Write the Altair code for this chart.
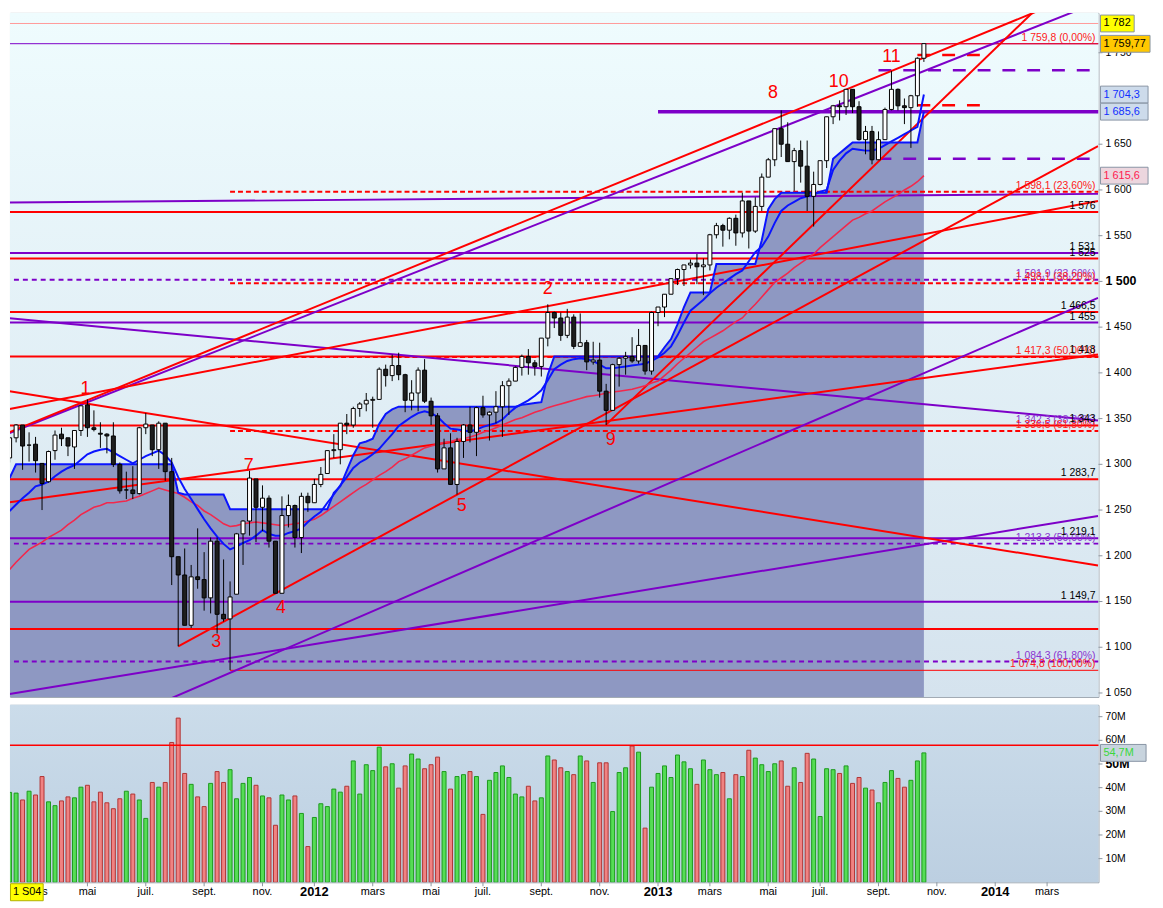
import altair as alt
import pandas as pd

# ------------------------------------------------------------------ data
# weekly candles (open, high, low, close)
ohlc_2011 = [
    (1307, 1330, 1302, 1329), (1329, 1344, 1324, 1343), (1343, 1343, 1294, 1320), (1321, 1335, 1303, 1321),
    (1322, 1330, 1291, 1304), (1301, 1301, 1250, 1279), (1281, 1315, 1280, 1314), (1315, 1337, 1305, 1332),
    (1333, 1340, 1320, 1328), (1329, 1329, 1309, 1320), (1319, 1337, 1295, 1337), (1337, 1364, 1331, 1364),
    (1365, 1371, 1330, 1340), (1340, 1359, 1336, 1338), (1334, 1346, 1318, 1333), (1333, 1334, 1312, 1331),
    (1331, 1346, 1297, 1300), (1300, 1302, 1268, 1271), (1272, 1292, 1262, 1272), (1272, 1298, 1262, 1268),
    (1268, 1341, 1267, 1340), (1340, 1356, 1333, 1344), (1343, 1343, 1309, 1316), (1316, 1347, 1295, 1345),
    (1345, 1345, 1282, 1292), (1292, 1307, 1168, 1199), (1199, 1199, 1101, 1179), (1179, 1208, 1124, 1124),
    (1124, 1190, 1121, 1177), (1177, 1230, 1164, 1174), (1174, 1204, 1140, 1154), (1154, 1220, 1137, 1216),
    (1216, 1220, 1115, 1136), (1136, 1196, 1128, 1131), (1131, 1172, 1075, 1155), (1158, 1225, 1158, 1224),
    (1224, 1239, 1190, 1238), (1238, 1293, 1222, 1285), (1284, 1284, 1215, 1253), (1253, 1277, 1227, 1263),
    (1263, 1266, 1209, 1216), (1216, 1216, 1159, 1159), (1159, 1265, 1159, 1244), (1244, 1267, 1231, 1255),
    (1255, 1256, 1209, 1220), (1220, 1269, 1203, 1265), (1265, 1269, 1248, 1258),
]
ohlc_2012 = [
    (1258, 1284, 1258, 1278), (1278, 1297, 1275, 1289), (1290, 1315, 1290, 1315), (1315, 1333, 1307, 1316),
    (1316, 1345, 1300, 1345), (1345, 1355, 1333, 1343), (1343, 1363, 1340, 1361), (1361, 1368, 1352, 1366),
    (1366, 1378, 1358, 1370), (1370, 1374, 1340, 1371), (1371, 1406, 1371, 1404), (1404, 1409, 1385, 1397),
    (1397, 1420, 1391, 1408), (1408, 1422, 1392, 1398), (1398, 1399, 1357, 1370), (1370, 1392, 1359, 1378),
    (1378, 1406, 1358, 1403), (1403, 1415, 1367, 1369), (1369, 1373, 1343, 1353), (1353, 1356, 1291, 1295),
    (1295, 1328, 1295, 1318), (1318, 1334, 1278, 1278), (1278, 1329, 1267, 1325), (1325, 1344, 1307, 1343),
    (1343, 1363, 1324, 1335), (1335, 1363, 1309, 1362), (1362, 1375, 1351, 1354), (1354, 1358, 1326, 1357),
    (1357, 1380, 1345, 1363), (1363, 1391, 1330, 1386), (1386, 1394, 1354, 1391), (1391, 1407, 1391, 1406),
    (1406, 1420, 1397, 1418), (1418, 1426, 1398, 1411), (1411, 1414, 1397, 1407), (1407, 1438, 1396, 1438),
    (1438, 1475, 1429, 1466), (1466, 1467, 1449, 1460), (1460, 1466, 1435, 1441), (1441, 1470, 1438, 1461),
    (1461, 1464, 1426, 1429), (1429, 1465, 1429, 1433), (1433, 1436, 1403, 1412), (1412, 1434, 1409, 1414),
    (1414, 1433, 1373, 1380), (1380, 1388, 1343, 1359), (1359, 1410, 1359, 1409), (1409, 1417, 1385, 1416),
    (1416, 1423, 1398, 1418), (1418, 1439, 1411, 1413), (1413, 1448, 1410, 1430), (1430, 1430, 1398, 1402),
    (1402, 1467, 1398, 1466),
]
ohlc_2013 = [
    (1466, 1472, 1451, 1472), (1472, 1486, 1461, 1486), (1486, 1503, 1486, 1503), (1503, 1514, 1496, 1513),
    (1513, 1518, 1495, 1518), (1518, 1524, 1514, 1520), (1520, 1530, 1497, 1516), (1516, 1525, 1485, 1518),
    (1518, 1552, 1512, 1551), (1551, 1564, 1547, 1561), (1561, 1563, 1538, 1556), (1556, 1570, 1546, 1569),
    (1569, 1573, 1539, 1553), (1553, 1597, 1548, 1588), (1588, 1588, 1536, 1555), (1555, 1592, 1553, 1582),
    (1582, 1618, 1577, 1614), (1614, 1635, 1614, 1633), (1633, 1667, 1626, 1667), (1667, 1687, 1636, 1650),
    (1650, 1674, 1631, 1631), (1631, 1646, 1599, 1643), (1643, 1654, 1608, 1626), (1626, 1654, 1577, 1593),
    (1593, 1620, 1560, 1606), (1606, 1632, 1605, 1632), (1632, 1680, 1624, 1680), (1680, 1693, 1672, 1692),
    (1692, 1698, 1676, 1691), (1691, 1710, 1682, 1710), (1710, 1710, 1684, 1691), (1691, 1697, 1654, 1655),
    (1655, 1670, 1639, 1664), (1664, 1670, 1628, 1633), (1633, 1664, 1633, 1655), (1655, 1690, 1655, 1688),
    (1688, 1730, 1687, 1710), (1710, 1711, 1687, 1692), (1692, 1700, 1672, 1690), (1690, 1704, 1646, 1703),
    (1703, 1745, 1691, 1744), (1744, 1760, 1740, 1760),
]
first_week = "2011-02-07"

# weekly volume, millions
volume_m = [
    38.0, 37.7, 34.8, 38.5, 36.9, 44.7, 34.0, 32.4, 34.4, 36.1,
    35.7, 40.2, 41.0, 34.0, 38.1, 33.6, 31.1, 35.3, 38.5, 37.3,
    34.8, 27.0, 42.2, 40.2, 42.2, 59.1, 69.4, 46.0, 41.4, 36.1,
    32.0, 41.8, 46.8, 42.2, 47.6, 35.3, 41.8, 44.3, 41.0, 36.5,
    35.7, 24.1, 36.9, 34.8, 36.5, 29.1, 15.1, 27.4, 33.2, 32.0,
    39.4, 38.1, 40.6, 51.3, 37.3, 49.7, 47.2, 57.1, 48.8, 50.1,
    39.8, 49.2, 54.2, 52.1, 48.0, 49.7, 52.9, 46.8, 39.4, 44.7,
    45.5, 46.8, 44.7, 28.7, 43.1, 46.4, 49.2, 44.3, 37.3, 36.1,
    40.6, 34.4, 35.7, 53.4, 51.7, 48.4, 46.8, 45.5, 53.4, 51.3,
    42.2, 50.5, 50.5, 29.9, 46.4, 48.4, 57.6, 55.0, 22.9, 40.2,
    46.0, 49.2, 44.3, 53.8, 50.9, 48.0, 41.4, 51.7, 47.6, 45.5,
    46.4, 35.3, 45.5, 44.7, 55.8, 52.5, 49.7, 46.8, 50.1, 51.3,
    40.6, 48.4, 42.2, 54.5, 52.1, 27.8, 48.0, 47.6, 46.0, 49.2,
    41.8, 44.3, 39.8, 39.0, 33.6, 42.2, 47.2, 43.9, 40.2, 43.1,
    51.3, 54.7,
]

# stepped blue stop line (top of the shaded area)
stop_line = [
    1285, 1300, 1300, 1300, 1300, 1300, 1300, 1300, 1300, 1300,
    1300, 1300, 1300, 1300, 1300, 1300, 1300, 1300, 1300, 1300,
    1300, 1300, 1300, 1300, 1300, 1300, 1269, 1267, 1267, 1267,
    1267, 1267, 1267, 1267, 1251, 1251, 1251, 1251, 1251, 1251,
    1251, 1251, 1251, 1251, 1251, 1251, 1251, 1251, 1251, 1251,
    1269, 1276, 1293, 1310, 1323, 1325, 1328, 1344, 1355, 1360,
    1363, 1363, 1363, 1363, 1363, 1363, 1363, 1363, 1363, 1363,
    1363, 1363, 1363, 1363, 1363, 1363, 1363, 1363, 1363, 1365,
    1366, 1367, 1368, 1398, 1418, 1418, 1418, 1418, 1418, 1418,
    1418, 1418, 1418, 1418, 1418, 1418, 1418, 1418, 1418, 1418,
    1418, 1428, 1437, 1453, 1472, 1488, 1488, 1488, 1488, 1519,
    1519, 1519, 1519, 1519, 1519, 1519, 1545, 1579, 1590, 1597,
    1597, 1597, 1597, 1597, 1597, 1597, 1597, 1634, 1640, 1646,
    1652, 1652, 1652, 1652, 1652, 1652, 1652, 1652, 1652, 1652,
    1652, 1685.6,
]
# smooth blue line
fast_line = [
    1249, 1256, 1263, 1269, 1276, 1278, 1281, 1287, 1292, 1296,
    1299, 1305, 1311, 1314, 1316, 1317, 1313, 1309, 1305, 1301,
    1305, 1309, 1312, 1315, 1310, 1302, 1286, 1273, 1262, 1251,
    1240, 1230, 1221, 1213, 1207, 1210, 1214, 1217, 1222, 1228,
    1224, 1222, 1222, 1225, 1227, 1230, 1237, 1243, 1248, 1258,
    1267, 1277, 1286, 1296, 1302, 1306, 1311, 1317, 1325, 1333,
    1342, 1347, 1352, 1356, 1358, 1356, 1352, 1345, 1339, 1338,
    1337, 1336, 1338, 1341, 1343, 1345, 1349, 1356, 1362, 1366,
    1370, 1375, 1381, 1392, 1404, 1409, 1413, 1415, 1416, 1415,
    1413, 1409, 1405, 1405, 1406, 1407, 1408, 1409, 1410, 1413,
    1417, 1422, 1429, 1441, 1455, 1468, 1474, 1480, 1487, 1493,
    1498, 1503, 1508, 1512, 1522, 1532, 1538, 1549, 1564, 1577,
    1583, 1587, 1591, 1593, 1595, 1598, 1600, 1622, 1632, 1640,
    1645, 1644, 1643, 1643, 1645, 1649, 1653, 1657, 1661, 1665,
    1669, 1704.3,
]
# red moving average
slow_ma = [
    1185, 1193, 1200, 1207, 1211, 1215, 1220, 1224, 1228, 1234,
    1239, 1245, 1249, 1253, 1255, 1258, 1258, 1259, 1260, 1263,
    1265, 1268, 1271, 1274, 1272, 1270, 1268, 1264, 1259, 1255,
    1249, 1245, 1240, 1235, 1232, 1233, 1235, 1236, 1237, 1236,
    1235, 1234, 1233, 1234, 1235, 1236, 1238, 1240, 1244, 1249,
    1254, 1259, 1264, 1269, 1274, 1278, 1283, 1288, 1292, 1297,
    1303, 1306, 1310, 1314, 1318, 1320, 1322, 1324, 1325, 1327,
    1328, 1330, 1332, 1335, 1337, 1340, 1343, 1346, 1349, 1351,
    1354, 1357, 1359, 1362, 1364, 1366, 1368, 1370, 1372, 1374,
    1375, 1376, 1378, 1379, 1380, 1381, 1382, 1384, 1386, 1389,
    1391, 1397, 1403, 1410, 1416, 1422, 1428, 1434, 1438, 1442,
    1446, 1451, 1456, 1460, 1468, 1475, 1483, 1491, 1499, 1504,
    1509, 1515, 1520, 1525, 1530, 1537, 1543, 1549, 1555, 1561,
    1567, 1570, 1574, 1577, 1582, 1587, 1591, 1595, 1600, 1604,
    1609, 1615.6,
]

# horizontal levels
red_levels = [1576, 1525, 1466.5, 1418, 1342.5, 1283.7, 1120]
purple_levels = [1531, 1455, 1219.1, 1149.7]
red_fib_levels = [1598.1, 1498.1, 1417.3, 1336.5]
red_fib_thin = [1759.8, 1074.8]
fib_start = "2011-10-03"
purple_fib_levels = [1501.9, 1213.3, 1084.3]
purple_top_level = [1759.9]
pink_level = [1782]
resistance = [1685.6]
resistance_start = "2013-01-07"
purple_short_levels = [1730.9, 1634.0]
purple_short_start = "2013-09-02"
red_short_levels = [1747.6, 1692.6]
red_short_start = "2013-10-14"
red_short_end = "2013-12-21"
volume_level = [57.9]

# trend lines: start date, start price, end date, end price
red_trends = [
    ("2011-02-07", 1335.3, "2014-04-27", 1822.6),
    ("2011-02-07", 1360.6, "2014-04-27", 1588.0),
    ("2011-02-07", 1379.8, "2014-04-27", 1189.4),
    ("2011-02-07", 1258.5, "2014-04-27", 1420.2),
    ("2011-08-08", 1101.0, "2014-04-27", 1648.0),
    ("2012-11-12", 1343.4, "2014-04-27", 1863.0),
]
purple_trends = [
    ("2011-02-07", 1334.3, "2014-04-27", 1805.3),
    ("2011-02-07", 1459.6, "2014-04-27", 1347.9),
    ("2011-07-01", 1030.9, "2014-04-27", 1481.9),
    ("2011-02-07", 1048.9, "2014-04-27", 1243.6),
    ("2011-02-07", 1586.2, "2014-04-27", 1595.7),
]

# wave count labels
wave_labels = ["1", "2", "3", "4", "5", "7", "8", "9", "10", "11"]
wave_dates = ["2011-04-30", "2012-09-10", "2011-09-18", "2011-11-27", "2012-06-09",
              "2011-10-23", "2013-05-11", "2012-11-17", "2013-07-21", "2013-09-16"]
wave_prices = [1381.9, 1491.5, 1105.3, 1142.6, 1254.3, 1297.9, 1706.4, 1326.6, 1718.1, 1745.7]

# line labels at the right edge
black_labels = [(1576, "1 576"), (1531, "1 531"), (1525, "1 525"), (1466.5, "1 466,5"),
                (1455, "1 455"), (1418, "1 418"), (1342.5, "1 343"), (1283.7, "1 283,7"),
                (1219.1, "1 219,1"), (1149.7, "1 149,7")]
red_fib_labels = [(1759.8, "1 759,8 (0,00%)"), (1598.1, "1 598,1 (23,60%)"), (1498.1, "1 498,1 (38,20%)"),
                  (1417.3, "1 417,3 (50,00%)"), (1336.5, "1 336,5 (61,80%)"), (1074.8, "1 074,8 (100,00%)")]
purple_fib_labels = [(1501.9, "1 501,9 (23,60%)"), (1342.3, "1 342,3 (38,20%)"),
                     (1213.3, "1 213,3 (50,00%)"), (1084.3, "1 084,3 (61,80%)")]

# axis value boxes
yellow_box = [(1782, "1 782")]
gold_box = [(1759.77, "1 759,77")]
blue_boxes = [(1704.3, "1 704,3"), (1685.6, "1 685,6")]
pink_box = [(1615.6, "1 615,6")]
volume_box = [(54.7, "54,7M")]
cursor_label = "1 S04"

# axis ticks and their labels
price_ticks = [1050, 1100, 1150, 1200, 1250, 1300, 1350, 1400, 1450, 1550, 1600, 1650, 1750]
price_tick_labels = ["1 050", "1 100", "1 150", "1 200", "1 250", "1 300", "1 350", "1 400", "1 450",
                     "1 550", "1 600", "1 650", "1 750"]
price_bold_tick = [(1500, "1 500")]
volume_ticks = [10, 20, 30, 40, 60, 70]
volume_tick_labels = ["10M", "20M", "30M", "40M", "60M", "70M"]
volume_bold_tick = [(50, "50M")]
tick_dates = ["2011-03-07", "2011-05-02", "2011-07-04", "2011-09-05", "2011-11-07", "2012-01-02",
              "2012-03-05", "2012-05-07", "2012-07-02", "2012-09-03", "2012-11-05", "2013-01-07",
              "2013-03-04", "2013-05-06", "2013-07-01", "2013-09-02", "2013-11-04", "2014-01-06",
              "2014-03-03"]
tick_labels = ["mars", "mai", "juil.", "sept.", "nov.", "2012", "mars", "mai", "juil.", "sept.",
               "nov.", "2013", "mars", "mai", "juil.", "sept.", "nov.", "2014", "mars"]

# ------------------------------------------------------------------ frames
ohlc = ohlc_2011 + ohlc_2012 + ohlc_2013
df = pd.DataFrame(ohlc, columns=["open", "high", "low", "close"])
df["date"] = pd.date_range(first_week, periods=len(ohlc), freq="7D").strftime("%Y-%m-%d")
df["vol"] = volume_m
df["stop"] = stop_line
df["fast"] = fast_line
df["ma"] = slow_ma
prev_close = df["close"].shift(1).fillna(df["open"])
df["vol_up"] = df["close"] >= prev_close


def ms(s):
    return int(pd.Timestamp(s, tz="UTC").value // 10**6)


W, H1, H2 = 1098, 690, 179
FONT = "Liberation Sans"
RED = "#ff0000"
PURPLE = "#7d00c8"
AXIS_GREY = "#8c96a0"

x_scale = alt.Scale(type="utc", domain=[ms("2011-02-07 09:36"), ms("2014-04-27 12:00")], padding=0)
p_scale = alt.Scale(domain=[1045.7, 1793.6], nice=False, zero=False, padding=0)
v_scale = alt.Scale(domain=[0, 75], nice=False, zero=False, padding=0)


def X(f):
    return alt.X(f"{f}:T", scale=x_scale, axis=None)


def YP(f):
    return alt.Y(f"{f}:Q", scale=p_scale, axis=None)


def YV(f):
    return alt.Y(f"{f}:Q", scale=v_scale, axis=None)


one = pd.DataFrame({"a": [0]})


def bg(height, c0, c1):
    grad = alt.Gradient(gradient="linear", x1=0, x2=0, y1=0, y2=1,
                        stops=[alt.GradientStop(color=c0, offset=0), alt.GradientStop(color=c1, offset=1)])
    return alt.Chart(one).mark_rect(fill=grad).encode(
        x=alt.value(0), x2=alt.value(W), y=alt.value(0), y2=alt.value(height))


def hlines(levels, color, width, dash=None, start=None, end=None):
    d = pd.DataFrame({"p": levels})
    kw = dict(color=color, strokeWidth=width, clip=True)
    if dash:
        kw["strokeDash"] = dash
    enc = dict(y=YP("p"))
    if start:
        d["s"] = start
        enc["x"] = X("s")
        if end:
            d["e"] = end
            enc["x2"] = "e:T"
        else:
            enc["x2"] = alt.value(W)
    return alt.Chart(d).mark_rule(**kw).encode(**enc)


def trends(rows, color, width):
    d = pd.DataFrame(rows, columns=["d1", "p1", "d2", "p2"])
    return alt.Chart(d).mark_rule(color=color, strokeWidth=width, clip=True).encode(
        x=X("d1"), x2="d2:T", y=YP("p1"), y2="p2:Q")


def right_labels(rows, color):
    d = pd.DataFrame(rows, columns=["p", "t"])
    return alt.Chart(d).mark_text(align="right", baseline="bottom", dy=-1, font=FONT,
                                  fontSize=10.5, color=color).encode(
        x=alt.value(W - 3), y=YP("p"), text="t:N")


def value_box(rows, yfun, fill, text_color, width, xoff=2, stroke="#8894a4"):
    d = pd.DataFrame(rows, columns=["p", "t"])
    r = 17.0 / width
    path = f"M-1,-{r:.3f}L1,-{r:.3f}L1,{r:.3f}L-1,{r:.3f}Z"
    box = alt.Chart(d).mark_point(shape=path, size=width * width, filled=True, fill=fill,
                                  stroke=stroke, strokeWidth=1, opacity=1).encode(
        x=alt.value(W + xoff + width / 2), y=yfun("p"))
    txt = alt.Chart(d).mark_text(align="left", baseline="middle", font=FONT, fontSize=11,
                                 color=text_color).encode(
        x=alt.value(W + xoff + 3), y=yfun("p"), text="t:N")
    return [box, txt]


def y_axis(values, labels, bold, yfun, size=10.5):
    d = pd.DataFrame({"p": values, "t": labels})
    b = pd.DataFrame(bold, columns=["p", "t"])
    allv = pd.DataFrame({"p": list(values) + list(b["p"])})
    ticks = alt.Chart(allv).mark_rule(color=AXIS_GREY, strokeWidth=1).encode(
        x=alt.value(W), x2=alt.value(W + 4), y=yfun("p"))
    txt = alt.Chart(d).mark_text(align="left", baseline="middle", font=FONT, fontSize=size,
                                 color="#000000").encode(x=alt.value(W + 7), y=yfun("p"), text="t:N")
    btxt = alt.Chart(b).mark_text(align="left", baseline="middle", font=FONT, fontSize=12.5,
                                  fontWeight="bold", color="#000000").encode(
        x=alt.value(W + 7), y=yfun("p"), text="t:N")
    return [ticks, txt, btxt]


# ------------------------------------------------------------------ price panel
area = alt.Chart(df).mark_area(color="#8e98c2", opacity=1, clip=True).encode(
    x=X("date"), y=YP("stop"), y2=alt.datum(1000))

ma = alt.Chart(df).mark_line(color="#f2284c", strokeWidth=1.6, clip=True).encode(x=X("date"), y=YP("ma"))
fast = alt.Chart(df).mark_line(color="#0a14ff", strokeWidth=2, clip=True).encode(x=X("date"), y=YP("fast"))
stop = alt.Chart(df).mark_line(color="#0a14ff", strokeWidth=2, clip=True).encode(x=X("date"), y=YP("stop"))

wicks = alt.Chart(df).mark_rule(color="#000000", strokeWidth=1, clip=True).encode(
    x=X("date"), y=YP("low"), y2="high:Q")
bodies = alt.Chart(df).mark_bar(size=4, stroke="#000000", strokeWidth=1, clip=True).encode(
    x=X("date"), y=YP("open"), y2="close:Q",
    fill=alt.condition("datum.close >= datum.open", alt.value("#ffffff"), alt.value("#1e1e1e")))

waves = alt.Chart(pd.DataFrame({"t": wave_labels, "d": wave_dates, "p": wave_prices})).mark_text(
    font=FONT, fontSize=18, color=RED, align="center", baseline="middle").encode(
    x=X("d"), y=YP("p"), text="t:N")

price_layers = [
    bg(H1, "#effcfe", "#d5e3ee"),
    area,
    hlines(pink_level, "#ff9a9a", 1),
    hlines(purple_top_level, PURPLE, 1),
    hlines(red_fib_thin, RED, 1, start=fib_start),
    hlines(purple_fib_levels, PURPLE, 2, dash=[5, 4]),
    hlines(red_fib_levels, RED, 2, dash=[5, 3], start=fib_start),
    hlines(purple_levels, PURPLE, 2),
    hlines(red_levels, RED, 2),
    hlines(resistance, PURPLE, 3.5, start=resistance_start),
    hlines(purple_short_levels, PURPLE, 2.5, dash=[13, 12], start=purple_short_start),
    hlines(red_short_levels, RED, 2.5, dash=[13, 12], start=red_short_start, end=red_short_end),
    trends(purple_trends, PURPLE, 2),
    trends(red_trends, RED, 2),
    ma, fast, stop,
    wicks, bodies,
    waves,
    right_labels(purple_fib_labels, "#8a35d0"),
    right_labels(red_fib_labels, "#ff2020"),
    right_labels(black_labels, "#000000"),
]
price_layers += y_axis(price_ticks, price_tick_labels, price_bold_tick, YP)
price_layers += value_box(yellow_box, YP, "#ffff00", "#000000", 34)
price_layers += value_box(gold_box, YP, "#ffc800", "#000000", 50)
price_layers += value_box(blue_boxes, YP, "#cddbeb", "#1030ff", 48)
price_layers += value_box(pink_box, YP, "#ecd6de", "#ff2050", 48)

price = alt.layer(*price_layers).properties(width=W, height=H1)

# ------------------------------------------------------------------ volume panel
vol_bars = alt.Chart(df).mark_bar(size=4, strokeWidth=1, clip=True).encode(
    x=X("date"), y=YV("vol"),
    fill=alt.condition("datum.vol_up", alt.value("#55dd55"), alt.value("#f08282")),
    stroke=alt.condition("datum.vol_up", alt.value("#1c9a1c"), alt.value("#b03434")))

vol_rule = alt.Chart(pd.DataFrame({"v": volume_level})).mark_rule(color=RED, strokeWidth=1.5).encode(
    y=YV("v"))

tick_df = pd.DataFrame({"d": tick_dates, "t": tick_labels})
tick_df["year"] = tick_df["t"].str.isdigit()
x_ticks = alt.Chart(tick_df).mark_rule(color=AXIS_GREY, strokeWidth=1).encode(
    x=X("d"), y=alt.value(H2), y2=alt.value(H2 + 4))
month_text = alt.Chart(tick_df[~tick_df["year"]]).mark_text(
    font=FONT, fontSize=11, color="#000000", baseline="middle", align="center").encode(
    x=X("d"), y=alt.value(H2 + 10), text="t:N")
year_text = alt.Chart(tick_df[tick_df["year"]]).mark_text(
    font=FONT, fontSize=13, fontWeight="bold", color="#000000", baseline="middle", align="center").encode(
    x=X("d"), y=alt.value(H2 + 10), text="t:N")

cur = pd.DataFrame({"t": [cursor_label]})
cur_box = alt.Chart(cur).mark_point(shape="M-1,-0.52L1,-0.52L1,0.52L-1,0.52Z", size=33 * 33, filled=True,
                                    fill="#ffff00", stroke="#b0b000", strokeWidth=1, opacity=1).encode(
    x=alt.value(17), y=alt.value(H2 + 10))
cur_text = alt.Chart(cur).mark_text(font=FONT, fontSize=11, color="#000000", align="left",
                                    baseline="middle").encode(
    x=alt.value(3), y=alt.value(H2 + 10), text="t:N")

vol_layers = [bg(H2, "#cbdcea", "#bccfe1"), vol_bars, vol_rule, x_ticks, month_text, year_text,
              cur_box, cur_text]
vol_layers += y_axis(volume_ticks, volume_tick_labels, volume_bold_tick, YV)
vol_layers += value_box(volume_box, YV, "#c8d4de", "#3ad83a", 46)
volume = alt.layer(*vol_layers).properties(width=W, height=H2)

chart = alt.vconcat(price, volume, spacing=4).properties(
    padding={"left": 0, "top": 0, "right": 2, "bottom": 0}
).configure_view(stroke="#98a2ac", strokeWidth=1)

chart.save("out.html", embed_options={"renderer": "svg", "actions": False})
